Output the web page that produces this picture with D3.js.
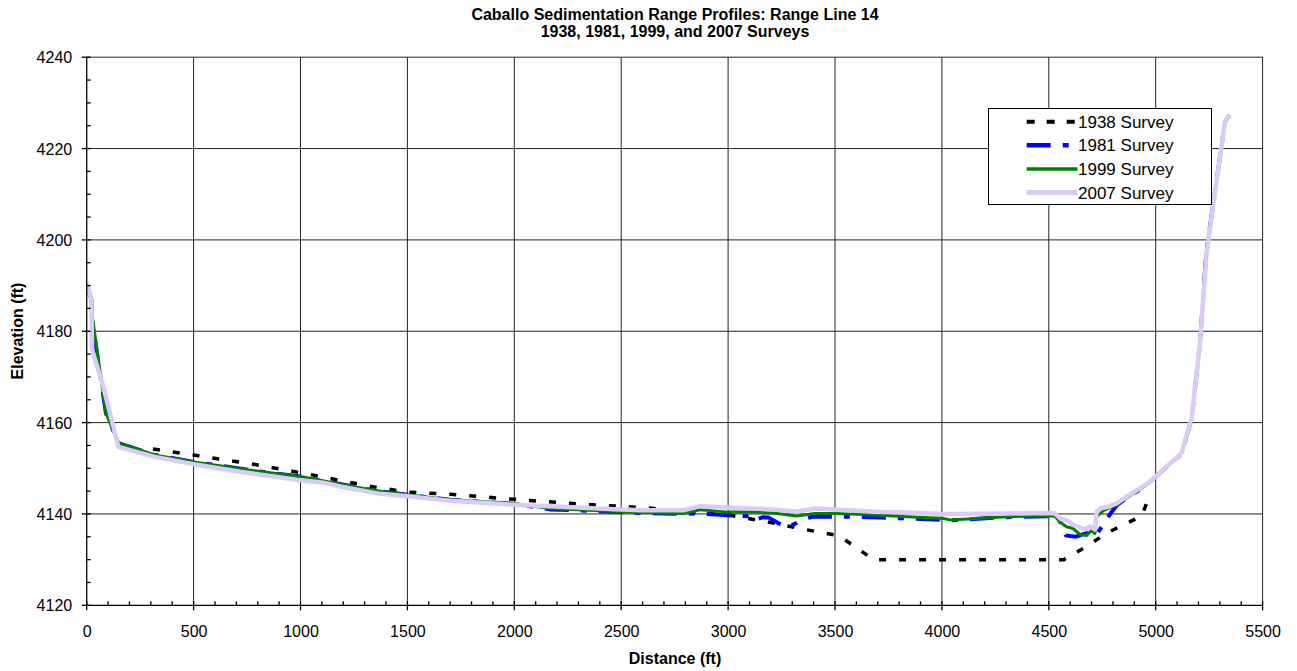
<!DOCTYPE html>
<html>
<head>
<meta charset="utf-8">
<script src="https://cdn.jsdelivr.net/npm/d3@7"></script>
<style>
  html, body { margin: 0; padding: 0; background: #fff; }
  svg { display: block; font-family: "Liberation Sans", Arial, sans-serif; }
</style>
</head>
<body>
<svg id="chart" width="1297" height="671"></svg>
<script>
// Range Line 14 cross-section surveys: [distance (ft), elevation (ft)]
const survey1938 = [
  [310, 4154.2], [500, 4152.9], [779, 4150.9], [1060, 4148.5], [1330, 4146.0],
  [1500, 4144.8], [1700, 4144.3], [2000, 4143.2], [2300, 4142.2], [2627, 4141.3],
  [2900, 4140.1], [3000, 4139.8], [3180, 4138.3], [3360, 4136.6], [3520, 4135.2],
  [3680, 4130.0], [4570, 4130.0], [4688, 4133.2], [4766, 4135.7], [4848, 4137.6],
  [4934, 4139.5], [4975, 4144.5]
];
const survey1981 = [
  [0, 4190.0], [22, 4187.0], [26, 4182.0], [90, 4162.0], [150, 4155.5], [320, 4152.9],
  [500, 4151.4], [810, 4149.3], [1000, 4148.2], [1122, 4147.1], [1340, 4145.2],
  [1500, 4144.2], [1699, 4143.1], [2000, 4142.2], [2167, 4141.0], [2500, 4140.4],
  [2598, 4140.2], [2790, 4140.0], [2865, 4140.1], [2963, 4139.8], [3043, 4139.55],
  [3112, 4139.5], [3126, 4138.7], [3164, 4139.3], [3190, 4139.2], [3234, 4138.0],
  [3281, 4137.1], [3327, 4138.2], [3392, 4139.4], [3578, 4139.4], [3665, 4139.25],
  [3860, 4139.0], [3960, 4138.8], [4040, 4138.6], [4300, 4139.3], [4500, 4139.5],
  [4540, 4139.6], [4560, 4137.5], [4580, 4135.3], [4625, 4135.0], [4650, 4135.4],
  [4700, 4136.2], [4725, 4135.6], [4790, 4140.2], [4820, 4142.0], [4958, 4146.4],
  [5121, 4153.2], [5168, 4160.8], [5207, 4177.3], [5236, 4197.0], [5324, 4225.9],
  [5345, 4227.3]
];
const survey1999 = [
  [0, 4190.0], [22, 4187.0], [27, 4183.0], [90, 4162.0], [150, 4155.5], [320, 4152.9],
  [500, 4151.4], [810, 4149.3], [1000, 4148.2], [1122, 4147.1], [1340, 4145.2],
  [1500, 4144.2], [1699, 4143.1], [2000, 4142.3], [2167, 4141.2], [2500, 4140.5],
  [2598, 4140.3], [2790, 4140.1], [2868, 4140.9], [3000, 4140.4], [3118, 4140.4],
  [3211, 4140.2], [3321, 4139.55], [3406, 4140.1], [3500, 4140.1], [3679, 4139.8],
  [3835, 4139.4], [4000, 4139.05], [4040, 4138.7], [4303, 4139.4], [4500, 4139.6],
  [4529, 4139.5], [4553, 4138.2], [4583, 4137.2], [4614, 4136.8], [4646, 4135.5],
  [4677, 4135.3], [4700, 4136.4], [4716, 4135.7], [4724, 4139.4], [4755, 4140.7],
  [4817, 4142.0], [4958, 4146.4], [5121, 4153.2], [5168, 4160.8], [5207, 4177.3],
  [5236, 4197.0], [5324, 4225.9], [5345, 4227.3]
];
const survey2007 = [
  [0, 4190.5], [22, 4187.0], [25, 4176.0], [80, 4167.5], [148, 4154.7], [319, 4152.5],
  [500, 4150.9], [717, 4149.25], [1000, 4147.4], [1107, 4146.85], [1185, 4146.0],
  [1372, 4144.4], [1500, 4143.9], [1699, 4142.9], [2000, 4142.0], [2245, 4141.5],
  [2500, 4141.0], [2598, 4140.8], [2790, 4140.8], [2868, 4141.7], [3000, 4141.4],
  [3211, 4141.0], [3321, 4140.5], [3406, 4141.2], [3500, 4141.0], [3679, 4140.5],
  [3835, 4140.3], [4000, 4140.0], [4300, 4140.1], [4500, 4140.2], [4529, 4140.1],
  [4553, 4139.0], [4583, 4138.6], [4620, 4137.5], [4669, 4136.6], [4692, 4137.3],
  [4716, 4136.6], [4724, 4140.4], [4740, 4141.2], [4786, 4141.7], [4817, 4142.3],
  [4974, 4147.1], [5121, 4153.3], [5168, 4160.9], [5207, 4177.4], [5238, 4197.1],
  [5324, 4225.9], [5339, 4227.0], [5347, 4227.4]
];

const xTicks = [0, 500, 1000, 1500, 2000, 2500, 3000, 3500, 4000, 4500, 5000, 5500];
const yTicks = [4120, 4140, 4160, 4180, 4200, 4220, 4240];

const series = [
  { name: "1938 Survey", data: survey1938, color: "#000000", width: 3.5, dash: "7,13", legendDash: "8,12" },
  { name: "1981 Survey", data: survey1981, color: "#0000FF", width: 4, dash: "24,12,6,12", legendDash: "24,12,6,12" },
  { name: "1999 Survey", data: survey1999, color: "#008000", width: 3, dash: null, legendDash: null },
  { name: "2007 Survey", data: survey2007, color: "#DCCBF7", width: 4.5, dash: null, legendDash: null }
];

const svg = d3.select("#chart");
const frame = { left: 86.7, right: 1262.6, top: 57.2, bottom: 605.3 };

const x = d3.scaleLinear().domain([0, 5500]).range([frame.left, frame.right]);
const y = d3.scaleLinear().domain([4120, 4240]).range([frame.bottom, frame.top]);

// Titles
const title = svg.append("g").attr("font-weight", "bold").attr("font-size", 16).attr("text-anchor", "middle");
title.append("text").attr("x", 675).attr("y", 19.5).text("Caballo Sedimentation Range Profiles: Range Line 14");
title.append("text").attr("x", 675).attr("y", 36.5).text("1938, 1981, 1999, and 2007 Surveys");

// Gridlines
const grid = svg.append("g").attr("stroke", "#222").attr("stroke-width", 1);
grid.selectAll("line.v").data(xTicks.slice(1)).join("line")
  .attr("x1", d => x(d)).attr("x2", d => x(d))
  .attr("y1", y(4240)).attr("y2", y(4120));
grid.selectAll("line.h").data(yTicks.slice(1)).join("line")
  .attr("x1", x(0)).attr("x2", x(5500))
  .attr("y1", d => y(d)).attr("y2", d => y(d));

// Profile lines
svg.append("clipPath").attr("id", "plotClip").append("rect")
  .attr("x", x(0)).attr("y", y(4240)).attr("width", x(5500) - x(0)).attr("height", y(4120) - y(4240));

const line = d3.line().x(d => x(d[0])).y(d => y(d[1]));
const plot = svg.append("g").attr("clip-path", "url(#plotClip)");
series.forEach(s => {
  plot.append("path")
    .datum(s.data)
    .attr("d", line)
    .attr("fill", "none")
    .attr("stroke", s.color)
    .attr("stroke-width", s.width)
    .attr("stroke-linejoin", "round")
    .attr("stroke-dasharray", s.dash);
});

// Axes
const fmt = d3.format("d");
const xAxis = d3.axisBottom(x).tickValues(xTicks).tickSize(0).tickPadding(0).tickFormat(fmt);
const gx = svg.append("g").attr("transform", `translate(0,${y(4120)})`).call(xAxis);
gx.select(".domain").remove();
gx.selectAll("text").attr("dy", null).attr("y", 31.5).attr("font-size", 16)
  .attr("font-family", "Liberation Sans, Arial, sans-serif").attr("fill", "#000");

const yAxis = d3.axisLeft(y).tickValues(yTicks).tickSize(0).tickPadding(0).tickFormat(fmt);
const gy = svg.append("g").attr("transform", `translate(${x(0)},0)`).call(yAxis);
gy.select(".domain").remove();
gy.selectAll("text").attr("x", -14.5).attr("dy", "0.35em").attr("font-size", 16)
  .attr("font-family", "Liberation Sans, Arial, sans-serif").attr("fill", "#000");

// Axis lines and tick marks
const ax = svg.append("g").attr("stroke", "#000").attr("stroke-width", 1.3);
ax.append("line").attr("x1", x(0)).attr("x2", x(0)).attr("y1", y(4240)).attr("y2", y(4120));
ax.append("line").attr("x1", x(0)).attr("x2", x(5500)).attr("y1", y(4120)).attr("y2", y(4120));
ax.selectAll("line.xmaj").data(xTicks).join("line")
  .attr("x1", d => x(d)).attr("x2", d => x(d)).attr("y1", y(4120) - 4).attr("y2", y(4120) + 5);
ax.selectAll("line.xmin").data(d3.range(100, 5500, 100).filter(v => v % 500 !== 0)).join("line")
  .attr("x1", d => x(d)).attr("x2", d => x(d)).attr("y1", y(4120) - 4).attr("y2", y(4120));
ax.selectAll("line.ymaj").data(yTicks).join("line")
  .attr("x1", x(0) - 5).attr("x2", x(0) + 4).attr("y1", d => y(d)).attr("y2", d => y(d));
ax.selectAll("line.ymin").data(d3.range(4125, 4240, 5).filter(v => v % 20 !== 0)).join("line")
  .attr("x1", x(0)).attr("x2", x(0) + 4).attr("y1", d => y(d)).attr("y2", d => y(d));

// Axis titles
svg.append("text").attr("x", 675).attr("y", 664).attr("text-anchor", "middle")
  .attr("font-weight", "bold").attr("font-size", 16).text("Distance (ft)");
svg.append("text").attr("transform", "translate(23,331) rotate(-90)").attr("text-anchor", "middle")
  .attr("font-weight", "bold").attr("font-size", 16).text("Elevation (ft)");

// Legend
const legend = svg.append("g").attr("transform", "translate(988,108)");
legend.append("rect").attr("x", 0.5).attr("y", 0.5).attr("width", 223).attr("height", 96)
  .attr("fill", "#fff").attr("stroke", "#000").attr("stroke-width", 1);
series.forEach((s, i) => {
  const cy = 13.7 + i * 23.6;
  legend.append("line").attr("x1", 38.7).attr("x2", 89.5).attr("y1", cy).attr("y2", cy)
    .attr("stroke", s.color).attr("stroke-width", s.width + 0.5).attr("stroke-dasharray", s.legendDash);
  legend.append("text").attr("x", 90).attr("y", cy).attr("dy", "0.36em")
    .attr("font-size", 17).text(s.name);
});
</script>
</body>
</html>
